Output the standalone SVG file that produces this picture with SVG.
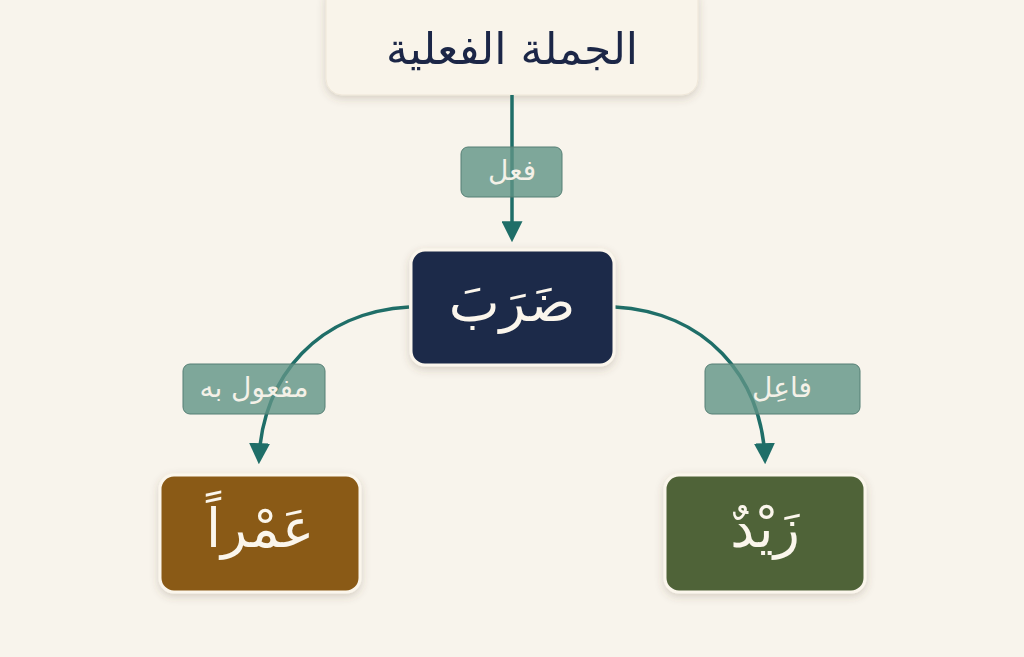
<svg xmlns="http://www.w3.org/2000/svg" width="1024" height="657" viewBox="0 0 1024 657">
<defs>
<filter id="sh" x="-20%" y="-20%" width="140%" height="150%">
<feDropShadow dx="0" dy="3" stdDeviation="4" flood-color="#5a4a30" flood-opacity="0.22"/>
</filter>
<marker id="arr" viewBox="0 0 10 10" refX="8" refY="5" markerWidth="6" markerHeight="6" orient="auto" markerUnits="strokeWidth">
<path d="M0,0 L10,5 L0,10 z" fill="#1f6e68"/>
</marker>
</defs>
<style>
.ar{font-family:"DejaVu Sans","Noto Sans",sans-serif;text-anchor:middle;dominant-baseline:central}
.conn{fill:none;stroke:#1f6e68;stroke-width:3.5;marker-end:url(#arr)}
.lbl rect{fill:#5f9486;fill-opacity:0.8;stroke:#557f74;stroke-width:1}
.lbl text{fill:#f4f1e8;font-size:28px}
.node rect{stroke:#fbf6ec;stroke-width:3;filter:url(#sh)}
.node text{fill:#fbf6ec;font-size:54px}
</style>
<rect width="1024" height="657" fill="#f8f4ec"/>
<g id="root" filter="url(#sh)">
<rect x="326" y="-16" width="372" height="111" rx="16" fill="#f9f4ea" stroke="#efe7d8" stroke-width="1"/>
<text class="ar" x="512" y="48" font-size="44" fill="#1b2847">الجملة الفعلية</text>
</g>
<g id="connectors">
<path class="conn" d="M512,95 L512,238"/>
<path class="conn" d="M409,307 C320,312 262,375 259,460"/>
<path class="conn" d="M615,307 C704,312 762,375 765,460"/>
</g>
<g id="label-fiel" class="lbl">
<rect x="461" y="147" width="101" height="50" rx="7"/>
<text class="ar" x="512" y="170">فعل</text>
</g>
<g id="label-mafool" class="lbl">
<rect x="183" y="364" width="142" height="50" rx="7"/>
<text class="ar" x="254" y="387">مفعول به</text>
</g>
<g id="label-fael" class="lbl">
<rect x="705" y="364" width="155" height="50" rx="7"/>
<text class="ar" x="782" y="387">فاعِل</text>
</g>
<g id="node-daraba" class="node">
<rect x="411" y="250" width="203" height="115" rx="14" fill="#1b2a48"/>
<text class="ar" x="512" y="302">ضَرَبَ</text>
</g>
<g id="node-amran" class="node">
<rect x="160" y="475" width="200" height="117" rx="14" fill="#8a5a17"/>
<text class="ar" x="260" y="528">عَمْراً</text>
</g>
<g id="node-zaid" class="node">
<rect x="665" y="475" width="200" height="117" rx="14" fill="#4f6339"/>
<text class="ar" x="765" y="528">زَيْدٌ</text>
</g>
</svg>
